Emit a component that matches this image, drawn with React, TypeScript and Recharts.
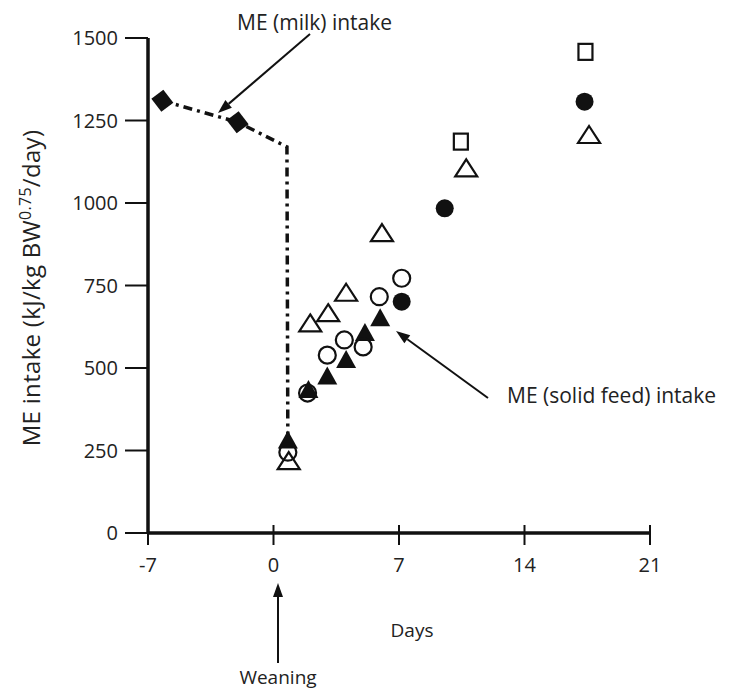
import React from 'react';
import { ScatterChart, Scatter, XAxis, YAxis, Customized } from 'recharts';

const dayTicks = [-7, 0, 7, 14, 21];
const meTicks = [0, 250, 500, 750, 1000, 1250, 1500];

// milk intake (diamonds + dash-dot line down to weaning)
const milkPoints = [
  { day: -6.2, me: 1310 },
  { day: -2, me: 1245 },
];
const milkLine = [
  { day: -6.2, me: 1310 },
  { day: -2, me: 1245 },
  { day: 0.75, me: 1170 },
  { day: 0.8, me: 280 },
];

// solid feed intake, one array per marker type
const filledTriangles = [
  { day: 0.8, me: 280 },
  { day: 1.95, me: 433 },
  { day: 3, me: 474 },
  { day: 4.05, me: 524 },
  { day: 5.1, me: 606 },
  { day: 5.95, me: 651 },
];
const openCircles = [
  { day: 0.8, me: 245 },
  { day: 1.9, me: 424 },
  { day: 3, me: 539 },
  { day: 3.95, me: 585 },
  { day: 5, me: 564 },
  { day: 5.9, me: 716 },
  { day: 7.15, me: 772 },
];
const openTriangles = [
  { day: 0.85, me: 218 },
  { day: 2.05, me: 635 },
  { day: 3.05, me: 666 },
  { day: 4.05, me: 728 },
  { day: 6.05, me: 909 },
  { day: 10.75, me: 1105 },
  { day: 17.6, me: 1206 },
];
const filledCircles = [
  { day: 7.15, me: 701 },
  { day: 9.55, me: 984 },
  { day: 17.35, me: 1307 },
];
const openSquares = [
  { day: 10.45, me: 1186 },
  { day: 17.4, me: 1458 },
];

const INK = '#111';
const FONT = '"Open Sans", sans-serif';

const OpenTriangle = (p: any) => (
  <polygon
    points={`${p.cx},${p.cy - 9} ${p.cx + 11},${p.cy + 8} ${p.cx - 11},${p.cy + 8}`}
    fill="none" stroke={INK} strokeWidth={2.2}
  />
);
const FilledTriangle = (p: any) => (
  <polygon
    points={`${p.cx},${p.cy - 10} ${p.cx + 10},${p.cy + 8} ${p.cx - 10},${p.cy + 8}`}
    fill={INK}
  />
);
const OpenCircle = (p: any) => <circle cx={p.cx} cy={p.cy} r={8.5} fill="none" stroke={INK} strokeWidth={2.2} />;
const FilledCircle = (p: any) => <circle cx={p.cx} cy={p.cy} r={9} fill={INK} />;
const OpenSquare = (p: any) => (
  <rect x={p.cx - 7} y={p.cy - 8} width={14} height={16} fill="none" stroke={INK} strokeWidth={2.2} />
);
const Diamond = (p: any) => (
  <polygon
    points={`${p.cx - 11},${p.cy - 2} ${p.cx + 1},${p.cy - 11} ${p.cx + 11},${p.cy + 2} ${p.cx - 1},${p.cy + 11}`}
    fill={INK}
  />
);
const NoMark = () => <g />;

const XTick = (p: any) => (
  <g>
    <line x1={p.x} x2={p.x} y1={p.y - 8} y2={p.y + 12} stroke={INK} strokeWidth={2} />
    <text x={p.x} y={p.y + 39} textAnchor="middle" fontSize={20} fontFamily={FONT} fill="#222">
      {p.payload.value}
    </text>
  </g>
);
const YTick = (p: any) => (
  <g>
    <line x1={p.x - 23} x2={p.x} y1={p.y} y2={p.y} stroke={INK} strokeWidth={2} />
    <text x={p.x - 30} y={p.y + 7} textAnchor="end" fontSize={20} fontFamily={FONT} fill="#222">
      {p.payload.value}
    </text>
  </g>
);

const Arrow = ({ x1, y1, x2, y2 }: { x1: number; y1: number; x2: number; y2: number }) => {
  const a = Math.atan2(y2 - y1, x2 - x1);
  const len = 14, w = 5;
  const bx = x2 - len * Math.cos(a), by = y2 - len * Math.sin(a);
  const nx = -Math.sin(a) * w, ny = Math.cos(a) * w;
  return (
    <g>
      <line x1={x1} y1={y1} x2={bx} y2={by} stroke={INK} strokeWidth={2} />
      <polygon points={`${x2},${y2} ${bx + nx},${by + ny} ${bx - nx},${by - ny}`} fill={INK} />
    </g>
  );
};

const Annotations = () => (
  <g fontFamily={FONT} fill="#222">
    <text x={237} y={30} fontSize={21}>ME (milk) intake</text>
    <Arrow x1={310} y1={34} x2={218} y2={113} />
    <text x={507} y={403} fontSize={21}>ME (solid feed) intake</text>
    <Arrow x1={488} y1={398} x2={396} y2={331} />
    <text x={412} y={637} fontSize={19} textAnchor="middle">Days</text>
    <text x={278} y={684} fontSize={19} textAnchor="middle">Weaning</text>
    <Arrow x1={278} y1={663} x2={278} y2={583} />
    <text transform="translate(40,288) rotate(-90)" textAnchor="middle" fontSize={24} letterSpacing={0.3}>
      ME intake (kJ/kg BW<tspan dy={-9} fontSize={16}>0.75</tspan>
      <tspan dy={9}>/day)</tspan>
    </text>
  </g>
);

export default function App() {
  return (
    <div style={{ position: 'absolute', left: 0, top: 0, background: '#fff' }}>
      <ScatterChart width={736} height={694} margin={{ top: 38, right: 86, bottom: 131, left: 88 }}>
        <XAxis
          type="number" dataKey="day" domain={[-7, 21]} ticks={dayTicks} height={30}
          axisLine={{ stroke: INK, strokeWidth: 3.5 }} tickLine={false} tickSize={0} tickMargin={0}
          tick={<XTick />} interval={0} allowDataOverflow
        />
        <YAxis
          type="number" dataKey="me" domain={[0, 1500]} ticks={meTicks} width={60}
          axisLine={{ stroke: INK, strokeWidth: 3.5 }} tickLine={false} tickSize={0} tickMargin={0}
          tick={<YTick />} interval={0} allowDataOverflow
        />
        <Scatter
          data={milkLine} shape={NoMark} isAnimationActive={false}
          line={{ stroke: INK, strokeWidth: 3.5, strokeDasharray: '9 5 3 5' }} lineType="joint"
        />
        <Scatter data={milkPoints} shape={Diamond} isAnimationActive={false} />
        <Scatter data={filledTriangles} shape={FilledTriangle} isAnimationActive={false} />
        <Scatter data={openCircles} shape={OpenCircle} isAnimationActive={false} />
        <Scatter data={openTriangles} shape={OpenTriangle} isAnimationActive={false} />
        <Scatter data={filledCircles} shape={FilledCircle} isAnimationActive={false} />
        <Scatter data={openSquares} shape={OpenSquare} isAnimationActive={false} />
        <Customized component={Annotations} />
      </ScatterChart>
    </div>
  );
}
